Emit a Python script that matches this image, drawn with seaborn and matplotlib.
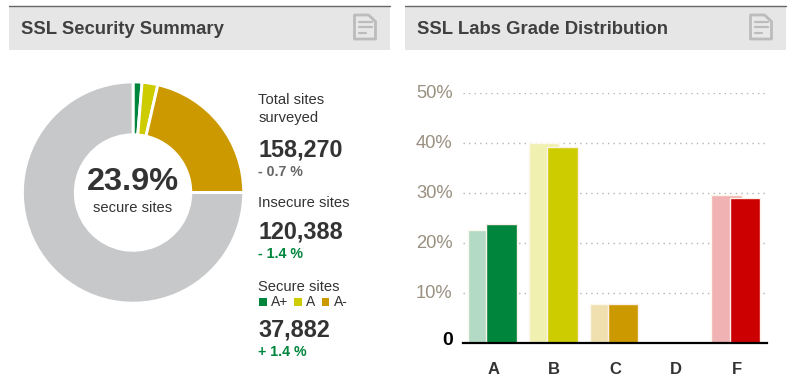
import matplotlib
matplotlib.use("Agg")
import matplotlib.pyplot as plt
from matplotlib.patches import Rectangle, Polygon
from matplotlib.lines import Line2D
from matplotlib.transforms import ScaledTranslation
import pandas as pd
import seaborn as sns

# ---- data ----
grades = ["A", "B", "C", "D", "F"]
previous = [22.6, 40.0, 7.8, 0.0, 29.6]
current = [23.9, 39.2, 7.8, 0.0, 29.1]
light_colors = ["#b3dac5", "#f0f0b0", "#f0e0b0", "#f0f0f0", "#f0b2b2"]
dark_colors = ["#00853c", "#cccc00", "#cc9900", "#999999", "#cc0000"]
y_ticks = [0, 10, 20, 30, 40, 50]
y_labels = ["0", "10%", "20%", "30%", "40%", "50%"]
donut_labels = ["A+", "A", "A-", "Insecure"]
donut_values = [1.3, 2.3, 21.4, 75.0]
donut_colors = ["#00853c", "#cccc00", "#cc9900", "#c7c8ca"]

W, H = 793, 390
sns.set_theme(style="white")
plt.rcParams["font.family"] = ["Liberation Sans", "DejaVu Sans"]
fig = plt.figure(figsize=(W / 100, H / 100), dpi=100, facecolor="white")


def axes_px(x0, y0, x1, y1, **kw):
    return fig.add_axes([x0 / W, 1 - y1 / H, (x1 - x0) / W, (y1 - y0) / H], **kw)


ov = axes_px(0, 0, W, H)
ov.set_xlim(0, W)
ov.set_ylim(H, 0)
ov.axis("off")
ov.set_zorder(3)
ov.patch.set_alpha(0)


def header(x0, x1, title):
    ov.add_patch(Rectangle((x0, 6.5), x1 - x0, 43.5, fc="#e6e6e6", ec="none"))
    ov.add_line(Line2D([x0, x1], [6.2, 6.2], color="#666666", lw=1))
    ov.text(x0 + 12, 29, title, fontsize=13.3, fontweight="bold", color="#404040",
            va="center", ha="left")
    ix = x1 - 35.5
    ov.add_patch(Polygon([(ix, 15), (ix + 14, 15), (ix + 21, 21.5), (ix + 21, 39), (ix, 39)],
                         closed=True, fc="#e8e8e8", ec="#bcbcbc", lw=2, joinstyle="round"))
    for dy, w in [(22, 13.5), (27, 13.5), (32.7, 7.5)]:
        ov.add_line(Line2D([ix + 4, ix + 4 + w], [dy, dy], color="#bcbcbc", lw=1.6))


header(9, 390, "SSL Security Summary")
header(405, 786, "SSL Labs Grade Distribution")

# ---- donut ----
ax_d = axes_px(22.4, 81.9, 243.7, 303.2)
ax_d.pie(donut_values, colors=donut_colors, startangle=90, counterclock=False, radius=1,
         wedgeprops=dict(width=0.478, edgecolor="white", linewidth=2.1))
ax_d.set_xlim(-1, 1)
ax_d.set_ylim(-1, 1)
ax_d.set_aspect("equal")
ov.text(132.5, 182.5, "23.9%", fontsize=23.4, fontweight="bold", color="#333333", ha="center", va="center")
ov.text(132.5, 207.5, "secure sites", fontsize=10.6, color="#333333", ha="center", va="center")

# ---- side stats ----
tx = 258.5
ov.text(tx, 100, "Total sites", fontsize=10.6, color="#333333", va="center")
ov.text(tx, 118, "surveyed", fontsize=10.6, color="#333333", va="center")
ov.text(tx, 149.5, "158,270", fontsize=16.8, fontweight="bold", color="#333333", va="center")
ov.text(tx, 171.5, "- 0.7 %", fontsize=10.2, fontweight="bold", color="#666666", va="center")
ov.text(tx, 203, "Insecure sites", fontsize=10.6, color="#333333", va="center")
ov.text(tx, 232.5, "120,388", fontsize=16.8, fontweight="bold", color="#333333", va="center")
ov.text(tx, 254.5, "- 1.4 %", fontsize=10.2, fontweight="bold", color="#00853c", va="center")
ov.text(tx, 287, "Secure sites", fontsize=10.6, color="#333333", va="center")
for px, lab, col in zip([259, 294, 321.7], donut_labels[:3], donut_colors[:3]):
    ov.add_patch(Rectangle((px, 298), 7.5, 7.5, fc=col, ec="none"))
    ov.text(px + 12.3, 302.5, lab, fontsize=10, color="#333333", va="center")
ov.text(tx, 329.5, "37,882", fontsize=16.8, fontweight="bold", color="#333333", va="center")
ov.text(tx, 352.5, "+ 1.4 %", fontsize=10.2, fontweight="bold", color="#00853c", va="center")

# ---- bars ----
ax = axes_px(463, 93.3, 767, 343.3)
idx = list(range(len(grades)))
df_prev = pd.DataFrame({"pos": [i - 0.165 for i in idx], "value": previous, "grade": grades})
df_cur = pd.DataFrame({"pos": [i + 0.135 for i in idx], "value": current, "grade": grades})
sns.barplot(data=df_prev, x="pos", y="value", hue="grade", palette=light_colors, saturation=1,
            native_scale=True, width=0.5, dodge=False, legend=False, ax=ax,
            edgecolor="#fdf8ee", linewidth=1, zorder=3)
sns.barplot(data=df_cur, x="pos", y="value", hue="grade", palette=dark_colors, saturation=1,
            native_scale=True, width=0.5, dodge=False, legend=False, ax=ax,
            edgecolor="#fdf0ea", linewidth=1, zorder=4)
ax.set_xlim(-0.5, 4.5)
ax.set_ylim(0, 50)
ax.set_xticks(idx)
ax.set_xticklabels(grades, fontsize=12, fontweight="bold", color="#333333")
ax.set_yticks(y_ticks)
ax.set_yticklabels(y_labels, fontsize=13.2, color="#999080")
ax.tick_params(axis="both", length=0)
ax.tick_params(axis="x", pad=13.5)
ax.tick_params(axis="y", pad=7.5)
for i, lab in enumerate(ax.get_yticklabels()):
    shift_px = 5 if i == 0 else 1.8
    lab.set_transform(lab.get_transform() + ScaledTranslation(0, shift_px / 100, fig.dpi_scale_trans))
ax.get_yticklabels()[0].set_color("black")
ax.get_yticklabels()[0].set_fontweight("bold")
ax.get_yticklabels()[0].set_fontsize(14)
ax.set_xlabel("")
ax.set_ylabel("")
ax.grid(axis="y", color="#b5b5b5", ls=(0, (1, 3)), lw=1, zorder=1)
ax.set_axisbelow(True)
ax.patch.set_alpha(0)
for s in ["top", "right", "left"]:
    ax.spines[s].set_visible(False)
ax.spines["bottom"].set_color("black")
ax.spines["bottom"].set_linewidth(1.6)
ax.spines["bottom"].set_zorder(6)

fig.savefig("out.png", dpi=100, facecolor="white")
